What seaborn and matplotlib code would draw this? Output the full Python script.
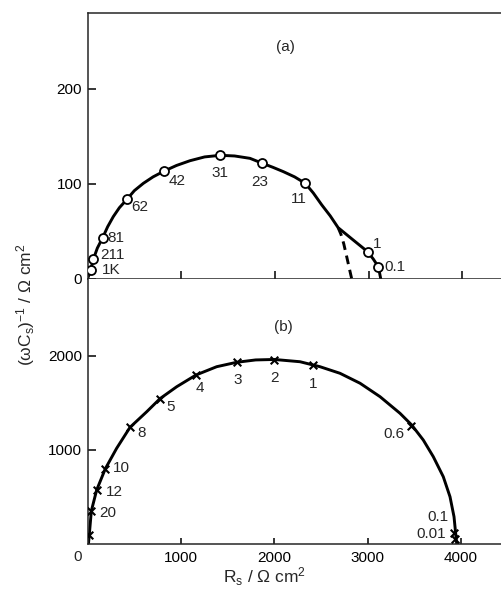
import matplotlib
matplotlib.use("Agg")
import matplotlib.pyplot as plt
import seaborn as sns

# ---- panel (a): impedance points (open circles) ----
a_labels = ["1K", "211", "81", "62", "42", "31", "23", "11", "1", "0.1"]
a_rs = [3.4, 6.2, 16.2, 42.2, 82, 141.7, 186.6, 232.4, 299, 310.4]
a_im = [9.5, 20.7, 43.5, 84, 113.7, 130.2, 121.8, 100.7, 28.7, 12.9]
# fitted curve of panel (a)
a_curve_rs = [0, 3.4, 6.2, 10.5, 16.2, 21.5, 27.5, 34, 42.2, 50, 59.6, 70, 82, 95,
              109.4, 125, 141.7, 157, 173.4, 186.6, 198, 209, 221, 232.4, 241,
              250, 259, 267.5, 283, 299, 305, 310.4, 313]
a_curve_im = [0, 9.5, 20.7, 32.5, 43.5, 55, 65.6, 75, 84, 93, 100.7, 107.5, 113.7,
              119.5, 124.5, 128.5, 130.2, 129.5, 127, 121.8, 117.5, 113, 107.5,
              100.7, 90.5, 78, 66.5, 54, 41.5, 28.7, 21, 12.9, 0]
# dashed branch of panel (a)
a_dash_rs = [267.5, 270.5, 273.5, 276.3, 279, 282]
a_dash_im = [54, 47, 37, 25, 13, 0]

# ---- panel (b): impedance points (crosses) ----
b_labels = ["", "20", "12", "10", "8", "5", "4", "3", "2", "1", "0.6", "0.1", "0.01"]
b_rs = [19, 41, 98, 191, 455, 776, 1162, 1597, 1997, 2412, 3465, 3925, 3935]
b_im = [96, 351, 574, 801, 1241, 1546, 1798, 1933, 1957, 1900, 1260, 117, 53]
# fitted curve of panel (b)
b_curve_rs = [10, 19, 41, 98, 191, 312, 455, 634, 776, 955, 1162, 1383, 1597, 1800,
              2000, 2275, 2489, 2703, 2918, 3132, 3346, 3471, 3595, 3702, 3809,
              3881, 3924, 3945, 3953]
b_curve_im = [0, 96, 351, 574, 801, 1018, 1241, 1407, 1546, 1673, 1798, 1886, 1933,
              1958, 1963, 1939, 1886, 1816, 1710, 1567, 1390, 1266, 1106, 929, 716,
              503, 290, 78, 0]

# label offsets (points) for each point annotation
a_offsets = [(14.6, 0), (14, 3.1), (9.2, 0), (9.4, -5.3), (9.4, -7.2), (0, -13),
             (-1.7, -13.2), (-4.5, -11.3), (6.5, 5.3), (12, 0)]
b_offsets = [(0, 0), (12, -1.2), (12.5, -1.7), (11.7, 0.3), (8.4, -4.3), (7.9, -6.2),
             (2.9, -9.6), (0.9, -12.7), (0, -13.2), (0.5, -13.5), (-12.6, -6),
             (-11.9, 11.7), (-17, 3.6)]

sns.set_style("ticks")
plt.rcParams["font.family"] = ["Liberation Sans", "DejaVu Sans"]
plt.rcParams["mathtext.fontset"] = "custom"
plt.rcParams["mathtext.rm"] = "Liberation Sans"
plt.rcParams["mathtext.it"] = "Liberation Sans"
plt.rcParams["axes.linewidth"] = 1.1

FS = 11
W, H = 501, 589
fig = plt.figure(figsize=(W / 100, H / 100), dpi=100)
left = 87.5 / W
ax1 = fig.add_axes([left, 1 - 279 / H, 1 - left, (279 - 12.5) / H])
ax2 = fig.add_axes([left, 1 - 544 / H, 1 - left, (544 - 279) / H])

# panel (a)
sns.lineplot(x=a_curve_rs, y=a_curve_im, sort=False, estimator=None, ax=ax1,
             color="black", lw=2.1)
sns.lineplot(x=a_dash_rs, y=a_dash_im, sort=False, estimator=None, ax=ax1,
             color="black", lw=2.1, linestyle=(0, (3, 2)))
sns.scatterplot(x=a_rs, y=a_im, ax=ax1, marker="o", s=42, facecolor="white",
                edgecolor="black", linewidth=1.3, zorder=5)
for lab, x, y, off in zip(a_labels, a_rs, a_im, a_offsets):
    ax1.annotate(lab, (x, y), xytext=off, textcoords="offset points",
                 ha="center", va="center", fontsize=FS, annotation_clip=False)

# panel (b)
sns.lineplot(x=b_curve_rs, y=b_curve_im, sort=False, estimator=None, ax=ax2,
             color="black", lw=2.1)
sns.scatterplot(x=b_rs, y=b_im, ax=ax2, marker="x", s=30, color="black",
                linewidth=1.5, zorder=5)
for lab, x, y, off in zip(b_labels, b_rs, b_im, b_offsets):
    if lab:
        ax2.annotate(lab, (x, y), xytext=off, textcoords="offset points",
                     ha="center", va="center", fontsize=FS, annotation_clip=False)

ax1.set_xlim(0, 441.3)
ax1.set_ylim(0, 280.5)
ax1.set_xticks([100, 200, 300, 400])
ax1.set_yticks([0, 100, 200])
ax2.set_xlim(0, 4427)
ax2.set_ylim(0, 2819)
ax2.set_xticks([1000, 2000, 3000, 4000])
ax2.set_yticks([1000, 2000])

for ax in (ax1, ax2):
    ax.set_facecolor("white")
    ax.spines["right"].set_visible(False)
    ax.tick_params(direction="in", length=6, width=1.1, labelsize=FS, pad=5,
                   colors="black")
    ax.tick_params(axis="y", pad=4)
    ax.set_xlabel("")
    ax.set_ylabel("")
ax2.spines["top"].set_visible(False)
ax2.tick_params(axis="x", length=4)

# shared origin label of panel (b)
ax2.annotate("0", (0, 0), xytext=(-7, -9.4), textcoords="offset points",
             ha="center", va="center", fontsize=FS, annotation_clip=False)

# panel tags
fig.text(285 / W, 1 - 46.7 / H, "(a)", ha="center", va="center", fontsize=FS)
fig.text(283.5 / W, 1 - 326.7 / H, "(b)", ha="center", va="center", fontsize=FS)

# axis titles
fig.text(26 / W, 1 - 305 / H, r"$(\omega\mathrm{C_s})^{-1}$ / $\Omega$ cm$^2$",
         rotation=90, ha="center", va="center", fontsize=12.5)
fig.text(264 / W, 1 - 577 / H, r"$\mathrm{R_s}$ / $\Omega$ cm$^2$",
         ha="center", va="center", fontsize=12.5)

fig.savefig("out.png", dpi=100, facecolor="white")
